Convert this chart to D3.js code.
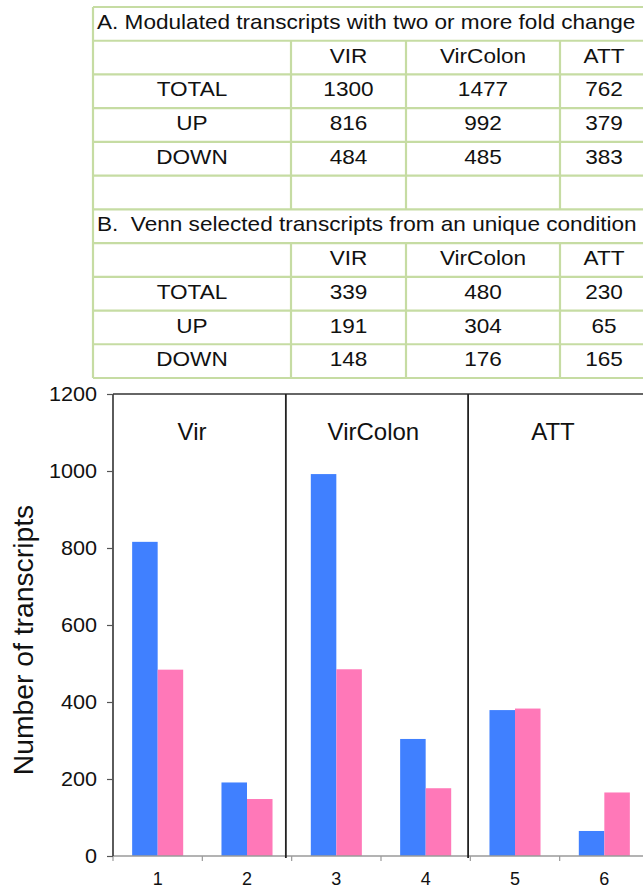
<!DOCTYPE html>
<html>
<head>
<meta charset="utf-8">
<script src="https://cdn.jsdelivr.net/npm/d3@7"></script>
<style>
  html, body { margin: 0; padding: 0; background: #fff; }
  svg { display: block; font-family: "Liberation Sans", Arial, Helvetica, sans-serif; }
</style>
</head>
<body>
<svg id="chart" width="643" height="888"></svg>
<script>
// ---------- DATA ----------
const tableATitle = "A. Modulated transcripts with two or more fold change";
const tableBTitle = "B.  Venn selected transcripts from an unique condition";
const conditions = ["VIR", "VirColon", "ATT"];
const rowLabels = ["TOTAL", "UP", "DOWN"];
const tableATotal = [1300, 1477, 762];
const tableAUp = [816, 992, 379];
const tableADown = [484, 485, 383];
const tableBTotal = [339, 480, 230];
const tableBUp = [191, 304, 65];
const tableBDown = [148, 176, 165];

const categories = ["1", "2", "3", "4", "5", "6"];
const groupNames = ["Vir", "VirColon", "ATT"];
const seriesNames = ["UP", "DOWN"];
const upValues = [816, 191, 992, 304, 379, 65];
const downValues = [484, 148, 485, 176, 383, 165];
const yTicks = [0, 200, 400, 600, 800, 1000, 1200];
const yLabel = "Number of transcripts";

(function () {
const svg = d3.select("#chart");
function stretch(sel, k) {
  sel.each(function () {
    const L = this.getComputedTextLength();
    if (L > 0) {
      this.setAttribute("textLength", L * k);
      this.setAttribute("lengthAdjust", "spacingAndGlyphs");
    }
  });
}

// ---------- TABLE ----------
const gridColor = "#c6dca3";
const rowY = d3.scaleLinear().domain([0, 11]).range([7, 378]);
const colEdges = [93, 291, 406, 560, 660];
const colCenters = [192, 348.5, 483, 604];

const tableRows = [
  {type: "title", text: tableATitle},
  {type: "row", cells: ["", ...conditions]},
  {type: "row", cells: [rowLabels[0], ...tableATotal]},
  {type: "row", cells: [rowLabels[1], ...tableAUp]},
  {type: "row", cells: [rowLabels[2], ...tableADown]},
  {type: "row", cells: ["", "", "", ""]},
  {type: "title", text: tableBTitle},
  {type: "row", cells: ["", ...conditions]},
  {type: "row", cells: [rowLabels[0], ...tableBTotal]},
  {type: "row", cells: [rowLabels[1], ...tableBUp]},
  {type: "row", cells: [rowLabels[2], ...tableBDown]}
];

const tg = svg.append("g");
tg.selectAll("line.h").data(d3.range(12)).join("line")
  .attr("x1", colEdges[0]).attr("x2", colEdges[4])
  .attr("y1", d => rowY(d)).attr("y2", d => rowY(d))
  .attr("stroke", gridColor).attr("stroke-width", 2.2);
tg.append("line").attr("x1", colEdges[0]).attr("x2", colEdges[0])
  .attr("y1", rowY(0)).attr("y2", rowY(11))
  .attr("stroke", gridColor).attr("stroke-width", 2.2);
tableRows.forEach((r, i) => {
  if (r.type === "row") {
    [1, 2, 3].forEach(c => {
      tg.append("line").attr("x1", colEdges[c]).attr("x2", colEdges[c])
        .attr("y1", rowY(i)).attr("y2", rowY(i + 1))
        .attr("stroke", gridColor).attr("stroke-width", 2.2);
    });
  }
});
tableRows.forEach((r, i) => {
  const base = rowY(i) + 22;
  if (r.type === "title") {
    tg.append("text").attr("class", "tt").attr("x", 97).attr("y", base - 0.5)
      .attr("font-size", 21).attr("fill", "#111")
      .attr("xml:space", "preserve").style("white-space", "pre")
      .text(r.text);
  } else {
    r.cells.forEach((c, j) => {
      tg.append("text").attr("class", "tt").attr("x", colCenters[j]).attr("y", base)
        .attr("text-anchor", "middle").attr("font-size", 21).attr("fill", "#111")
        .text(c);
    });
  }
});
stretch(tg.selectAll("text.tt"), 1.075);

// ---------- CHART ----------
const pLeft = 113, pRight = 649, pTop = 394, pBottom = 856;
const y = d3.scaleLinear().domain([0, 1200]).range([pBottom, pTop]);
const x0 = d3.scaleBand().domain(categories).range([pLeft, pRight]).paddingInner(0).paddingOuter(0);
const x1 = d3.scaleBand().domain(seriesNames).range([0, x0.bandwidth()]).paddingInner(0).paddingOuter(0.75);
const xl = d3.scaleLinear().domain([0.5, 6.5]).range([pLeft, pRight]);
const color = d3.scaleOrdinal().domain(seriesNames).range(["#4080ff", "#ff78b8"]);

const data = categories.map((c, i) => ({cat: c, UP: upValues[i], DOWN: downValues[i]}));

const cg = svg.append("g");
cg.selectAll("g.cat").data(data).join("g")
  .attr("transform", d => `translate(${x0(d.cat)},0)`)
  .selectAll("rect").data(d => seriesNames.map(s => ({s, v: d[s]}))).join("rect")
  .attr("x", d => x1(d.s)).attr("width", x1.bandwidth())
  .attr("y", d => y(d.v)).attr("height", d => y(0) - y(d.v))
  .attr("fill", d => color(d.s));

const xAxis = d3.axisBottom(x0).tickSize(0).tickPadding(16);
const xg = svg.append("g").attr("transform", `translate(0,${pBottom})`).call(xAxis);
xg.select(".domain").attr("stroke", "#9a9a9a").attr("stroke-width", 1.5)
  .attr("d", `M${pLeft},0H643`);
xg.selectAll("text").attr("font-size", 18).attr("fill", "#111")
  .attr("font-family", "Liberation Sans, Arial, sans-serif");
xg.selectAll("line.bt").data(d3.range(0, 7)).join("line")
  .attr("class", "bt")
  .attr("x1", d => pLeft + d * x0.step()).attr("x2", d => pLeft + d * x0.step())
  .attr("y1", 0).attr("y2", 5).attr("stroke", "#9a9a9a").attr("stroke-width", 1.2);

svg.append("line").attr("x1", pLeft).attr("x2", 643).attr("y1", pTop).attr("y2", pTop)
  .attr("stroke", "#333").attr("stroke-width", 1.6);

const dividerUnits = [2.435, 4.475];
svg.selectAll("line.div").data(dividerUnits).join("line")
  .attr("class", "div")
  .attr("x1", d => xl(d)).attr("x2", d => xl(d))
  .attr("y1", pTop).attr("y2", pBottom + 2)
  .attr("stroke", "#222").attr("stroke-width", 1.8);

const groupLabelUnits = [1.385, 3.415, 5.425];
svg.selectAll("text.grp").data(groupNames).join("text")
  .attr("class", "grp")
  .attr("x", (d, i) => xl(groupLabelUnits[i])).attr("y", 440)
  .attr("text-anchor", "middle").attr("font-size", 24).attr("fill", "#111")
  .text(d => d);

const yAxis = d3.axisLeft(y).tickValues(yTicks).tickFormat(d3.format("d")).tickSize(6).tickPadding(10);
const yg = svg.append("g").attr("transform", `translate(${pLeft},0)`).call(yAxis);
yg.select(".domain").attr("stroke", "#333").attr("stroke-width", 1.6)
  .attr("d", `M0,${pTop}V${pBottom}`);
yg.selectAll(".tick line").attr("stroke", "#555").attr("stroke-width", 1.2);
yg.selectAll("text").attr("font-size", 20).attr("fill", "#111")
  .attr("font-family", "Liberation Sans, Arial, sans-serif");
stretch(yg.selectAll("text"), 1.08);

const yl = svg.append("text")
  .attr("transform", `translate(33,640) rotate(-90)`)
  .attr("text-anchor", "middle").attr("font-size", 28).attr("fill", "#111")
  .text(yLabel);
stretch(yl, 1.01);
})();
</script>
</body>
</html>
